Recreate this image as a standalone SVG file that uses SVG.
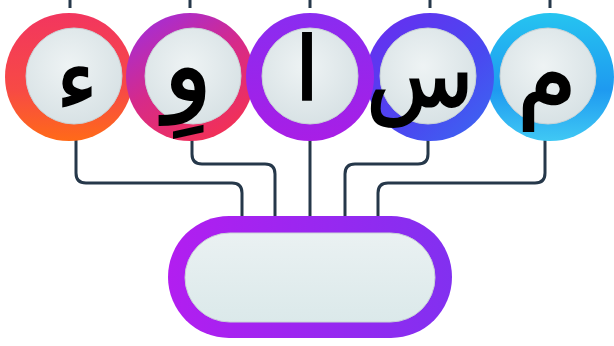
<svg xmlns="http://www.w3.org/2000/svg" width="614" height="346" viewBox="0 0 614 346">
<defs>
<linearGradient id="g1" x1="0" y1="0" x2="0" y2="1"><stop offset="0" stop-color="#f2365f"/><stop offset="0.6" stop-color="#f74a45"/><stop offset="1" stop-color="#ff6a18"/></linearGradient>
<linearGradient id="g2" x1="0" y1="0" x2="0.6" y2="1"><stop offset="0" stop-color="#9a2ee6"/><stop offset="0.55" stop-color="#d62a8a"/><stop offset="1" stop-color="#f0305a"/></linearGradient>
<linearGradient id="g3" x1="0" y1="0" x2="0" y2="1"><stop offset="0" stop-color="#8a2cf0"/><stop offset="1" stop-color="#a81ee6"/></linearGradient>
<linearGradient id="g4" x1="0" y1="0" x2="1" y2="1"><stop offset="0" stop-color="#6a2cf0"/><stop offset="0.6" stop-color="#4a48f0"/><stop offset="1" stop-color="#3a6af2"/></linearGradient>
<linearGradient id="g5" x1="0" y1="0" x2="0" y2="1"><stop offset="0" stop-color="#26c4f0"/><stop offset="0.6" stop-color="#1e9af0"/><stop offset="1" stop-color="#40c8f4"/></linearGradient>
<linearGradient id="gp" x1="0" y1="0" x2="1" y2="0"><stop offset="0" stop-color="#b21ef0"/><stop offset="1" stop-color="#8230f0"/></linearGradient>
<radialGradient id="gi" cx="0.45" cy="0.4" r="0.6"><stop offset="0" stop-color="#eef3f4"/><stop offset="1" stop-color="#d8e2e5"/></radialGradient>
<linearGradient id="gpi" x1="0" y1="0" x2="0" y2="1"><stop offset="0" stop-color="#eaf1f2"/><stop offset="1" stop-color="#dbe9ea"/></linearGradient>
</defs>
<style>
.ring{stroke:none}
.inner{fill:url(#gi);stroke:#c8d2d6;stroke-width:1}
.lt{font-family:"DejaVu Sans",sans-serif;font-size:88px;fill:#000;stroke:#000;stroke-width:2;text-anchor:middle}
.cn{fill:none;stroke:#26384a;stroke-width:3;stroke-linejoin:round}
</style>
<rect width="614" height="346" fill="#fff"/>
<g id="connectors">
<path class="cn" d="M70 0V8M190 0V8M310 0V8M430 0V8M550 0V8"/>
<path class="cn" d="M76 140V173Q76 183 86 183H232Q242 183 242 193V216"/>
<path class="cn" d="M192 140V154Q192 164 202 164H265Q275 164 275 174V216"/>
<path class="cn" d="M310 140V216"/>
<path class="cn" d="M428 140V154Q428 164 418 164H355Q345 164 345 174V216"/>
<path class="cn" d="M545 140V173Q545 183 535 183H388Q378 183 378 193V216"/>
</g>
<g id="node1"><circle class="ring" cx="69" cy="77" r="64" fill="url(#g1)"/><circle class="inner" cx="74" cy="76" r="48"/><text class="lt" x="77" y="110">ء</text></g>
<g id="node5"><circle class="ring" cx="550" cy="77" r="64" fill="url(#g5)"/><circle class="inner" cx="548" cy="76" r="48"/><text class="lt" x="547" y="108" style="font-size:96px">م</text></g>
<g id="node2"><circle class="ring" cx="190" cy="77" r="64" fill="url(#g2)"/><circle class="inner" cx="193" cy="76" r="48"/><text class="lt" x="188" y="100" style="font-size:100px">وِ</text></g>
<g id="node4"><circle class="ring" cx="430" cy="77" r="64" fill="url(#g4)"/><circle class="inner" cx="428" cy="76" r="48"/><text class="lt" x="420" y="106">س</text></g>
<g id="node3"><circle class="ring" cx="310" cy="77" r="64" fill="url(#g3)"/><circle class="inner" cx="310" cy="76" r="48"/><text class="lt" x="307" y="100">ا</text></g>
<g id="box"><rect x="168" y="216" width="284" height="122" rx="61" fill="url(#gp)"/><rect x="185" y="233" width="250" height="89" rx="44.5" fill="url(#gpi)" stroke="#c9d3d6" stroke-width="1"/></g>
</svg>
